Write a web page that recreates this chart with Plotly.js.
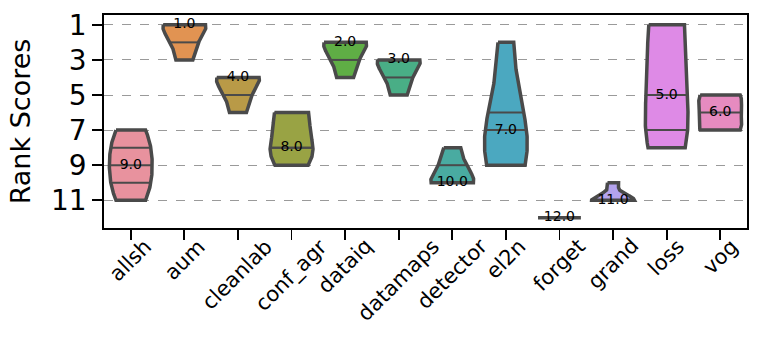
<!DOCTYPE html>
<html>
<head>
<meta charset="utf-8">
<script src="https://cdn.plot.ly/plotly-3.0.1.min.js"></script>
<style>
    body { margin: 0; background: #fff; }
    #chart { width: 761px; height: 341px; }
</style>
</head>
<body>
<div id="chart"></div>
<script>
const methods = ['allsh', 'aum', 'cleanlab', 'conf_agr', 'dataiq', 'datamaps', 'detector', 'el2n', 'forget', 'grand', 'loss', 'vog'];

// rank of each method on each of the 5 datasets
const allsh = [7, 8, 9, 10, 11];
const aum = [1, 1, 1, 2, 3];
const cleanlab = [4, 4, 4, 5, 6];
const conf_agr = [6, 6, 8, 8, 9];
const dataiq = [2, 2, 2, 3, 4];
const datamaps = [3, 3, 3, 4, 5];
const detector = [8, 9, 10, 10, 10];
const el2n = [2, 6, 7, 9, 9];
const forget = [12, 12, 12, 12, 12];
const grand = [10, 11, 11, 11, 11];
const loss = [1, 1, 5, 7, 8];
const vog = [5, 5, 6, 7, 7];

const ranks = [allsh, aum, cleanlab, conf_agr, dataiq, datamaps, detector, el2n, forget, grand, loss, vog];

const colors = ['#e8929e', '#e19352', '#b99a47', '#99a344', '#5fae45', '#49ae86', '#49aba1', '#4ba8c0',
    '#7f9fe0', '#b4a3ee', '#de8ae6', '#e68bc0'];

const edgeColor = '#4a4a4a';
const halfWidth = 0.4;

function quantile(arr, q) {
    const s = [...arr].sort((a, b) => a - b);
    const pos = (s.length - 1) * q;
    const lo = Math.floor(pos);
    const hi = Math.ceil(pos);
    return s[lo] + (s[hi] - s[lo]) * (pos - lo);
}

// gaussian kde with scott's bandwidth, like scipy
function kde(values) {
    const n = values.length;
    const mean = values.reduce((a, b) => a + b, 0) / n;
    const sd = Math.sqrt(values.reduce((a, v) => a + (v - mean) * (v - mean), 0) / (n - 1));
    const bw = sd * Math.pow(n, -0.2);
    return y => values.reduce((a, v) => a + Math.exp(-0.5 * Math.pow((y - v) / bw, 2)), 0);
}

const traces = [];
const quartX = [];
const quartY = [];

ranks.forEach((vals, i) => {
    const lo = Math.min(...vals);
    const hi = Math.max(...vals);
    if (lo === hi) {
        traces.push({
            x: [i - halfWidth, i + halfWidth],
            y: [lo, lo],
            mode: 'lines',
            line: { color: edgeColor, width: 3.5 },
            hoverinfo: 'skip',
            showlegend: false,
        });
        return;
    }
    const dens = kde(vals);
    const ys = [];
    for (let k = 0; k <= 100; k++) ys.push(lo + (hi - lo) * k / 100);
    const ds = ys.map(dens);
    const maxD = Math.max(...ds);
    const w = ds.map(d => d / maxD * halfWidth);
    const xs = ys.map((y, k) => i - w[k]).concat(ys.slice().reverse().map((y, k) => i + w[w.length - 1 - k]));
    const yy = ys.concat(ys.slice().reverse());
    xs.push(xs[0]);
    yy.push(yy[0]);
    traces.push({
        x: xs,
        y: yy,
        mode: 'lines',
        fill: 'toself',
        fillcolor: colors[i],
        line: { color: edgeColor, width: 3.5 },
        hoverinfo: 'skip',
        showlegend: false,
    });
    [0.25, 0.5, 0.75].forEach(q => {
        const qv = quantile(vals, q);
        const hw = dens(qv) / maxD * halfWidth;
        quartX.push(i - hw, i + hw, null);
        quartY.push(qv, qv, null);
    });
});

traces.push({
    x: quartX,
    y: quartY,
    mode: 'lines',
    line: { color: edgeColor, width: 2 },
    hoverinfo: 'skip',
    showlegend: false,
});

const medians = ranks.map(v => quantile(v, 0.5));
traces.push({
    x: methods.map((m, i) => i),
    y: medians,
    mode: 'text',
    text: medians.map(m => m.toFixed(1)),
    textposition: 'middle center',
    textfont: { family: 'DejaVu Sans', size: 14, color: '#000' },
    hoverinfo: 'skip',
    showlegend: false,
});

// category labels centred under their ticks, like matplotlib
const labels = methods.map((m, i) => ({
    x: i,
    xref: 'x',
    y: 0,
    yref: 'paper',
    yanchor: 'top',
    xanchor: 'center',
    yshift: -5,
    text: m,
    textangle: -45,
    showarrow: false,
    borderpad: 0,
    font: { family: 'DejaVu Sans', size: 21, color: '#000' },
}));

const layout = {
    width: 761,
    height: 341,
    margin: { l: 104, r: 14, t: 15, b: 113 },
    paper_bgcolor: '#fff',
    plot_bgcolor: '#fff',
    font: { family: 'DejaVu Sans', color: '#000' },
    showlegend: false,
    annotations: labels,
    xaxis: {
        range: [-0.5, 11.5],
        tickvals: methods.map((m, i) => i),
        showticklabels: false,
        ticks: 'outside',
        ticklen: 10,
        tickwidth: 1.8,
        tickcolor: '#000',
        showline: true,
        mirror: true,
        linecolor: '#000',
        linewidth: 1.8,
        showgrid: false,
        zeroline: false,
    },
    yaxis: {
        range: [12.58, 0.44],
        tickvals: [1, 3, 5, 7, 9, 11],
        tickfont: { size: 28 },
        ticks: 'outside',
        ticklen: 10,
        tickwidth: 1.8,
        tickcolor: '#000',
        showline: true,
        mirror: true,
        linecolor: '#000',
        linewidth: 1.8,
        showgrid: true,
        gridcolor: '#9a9a9a',
        griddash: 'dash',
        gridwidth: 1,
        zeroline: false,
        title: { text: 'Rank Scores', font: { size: 27 }, standoff: 12 },
    },
};

Plotly.newPlot('chart', traces, layout, { displayModeBar: false, staticPlot: true });
</script>
</body>
</html>
